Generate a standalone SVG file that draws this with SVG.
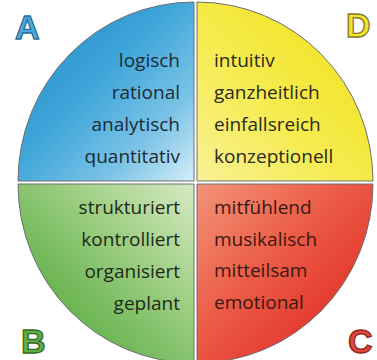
<svg xmlns="http://www.w3.org/2000/svg" width="377" height="360" viewBox="0 0 377 360">
<defs>
<linearGradient id="gBlue" x1="0" y1="0" x2="1" y2="1">
<stop offset="0" stop-color="#1f86c6"/>
<stop offset="0.45" stop-color="#3fa6da"/>
<stop offset="0.75" stop-color="#7cc4e6"/>
<stop offset="1" stop-color="#d6eef8"/>
</linearGradient>
<linearGradient id="gYellow" x1="0" y1="1" x2="1" y2="0">
<stop offset="0" stop-color="#f8f196"/>
<stop offset="0.4" stop-color="#f6ec52"/>
<stop offset="1" stop-color="#f0df10"/>
</linearGradient>
<linearGradient id="gGreen" x1="1" y1="0" x2="0" y2="1">
<stop offset="0" stop-color="#d6eac4"/>
<stop offset="0.35" stop-color="#9fcf84"/>
<stop offset="0.7" stop-color="#6bb553"/>
<stop offset="1" stop-color="#4e9e3a"/>
</linearGradient>
<linearGradient id="gRed" x1="0" y1="0" x2="1" y2="1">
<stop offset="0" stop-color="#f29478"/>
<stop offset="0.4" stop-color="#ec5e48"/>
<stop offset="0.8" stop-color="#e2322a"/>
<stop offset="1" stop-color="#d8261f"/>
</linearGradient>
<style>
.q{stroke:#6e6e6e;stroke-width:1}
.t{font-family:"Open Sans","Noto Sans",sans-serif;font-size:19px}
.r{text-anchor:end}
.L{font-family:"Liberation Sans","Arial",sans-serif;font-weight:bold;font-size:34px;stroke-width:1.3}
</style>
</defs>
<g id="quadrantA">
<path class="q" fill="url(#gBlue)" d="M194,181 L18,181 A176,179 0 0 1 194,2 Z"/>
<g class="t r" fill="#1e2a33">
<text x="180" y="67">logisch</text>
<text x="180" y="99">rational</text>
<text x="180" y="131">analytisch</text>
<text x="180" y="163">quantitativ</text>
</g>
<text class="L" x="15" y="39" fill="#4aaadd" stroke="#2a6d94">A</text>
</g>
<g id="quadrantD">
<path class="q" fill="url(#gYellow)" d="M197,181 L197,2 A176,179 0 0 1 373,181 Z"/>
<g class="t" fill="#2a2a1c">
<text x="214" y="67">intuitiv</text>
<text x="214" y="99">ganzheitlich</text>
<text x="214" y="131">einfallsreich</text>
<text x="214" y="163">konzeptionell</text>
</g>
<text class="L" x="346" y="37" fill="#f2e52a" stroke="#857a2c">D</text>
</g>
<g id="quadrantB">
<path class="q" fill="url(#gGreen)" d="M194,184 L194,363 A176,179 0 0 1 18,184 Z"/>
<g class="t r" fill="#1e2a18">
<text x="180" y="214">strukturiert</text>
<text x="180" y="246">kontrolliert</text>
<text x="180" y="278">organisiert</text>
<text x="180" y="310">geplant</text>
</g>
<text class="L" x="21" y="353" fill="#5cae46" stroke="#336a28">B</text>
</g>
<g id="quadrantC">
<path class="q" fill="url(#gRed)" d="M197,184 L373,184 A176,179 0 0 1 197,363 Z"/>
<g class="t" fill="#3a1812">
<text x="214" y="214">mitfühlend</text>
<text x="214" y="246">musikalisch</text>
<text x="214" y="277">mitteilsam</text>
<text x="214" y="309">emotional</text>
</g>
<text class="L" x="348" y="353" fill="#e0443a" stroke="#8a2a22">C</text>
</g>
<g id="connectors"/>
</svg>
